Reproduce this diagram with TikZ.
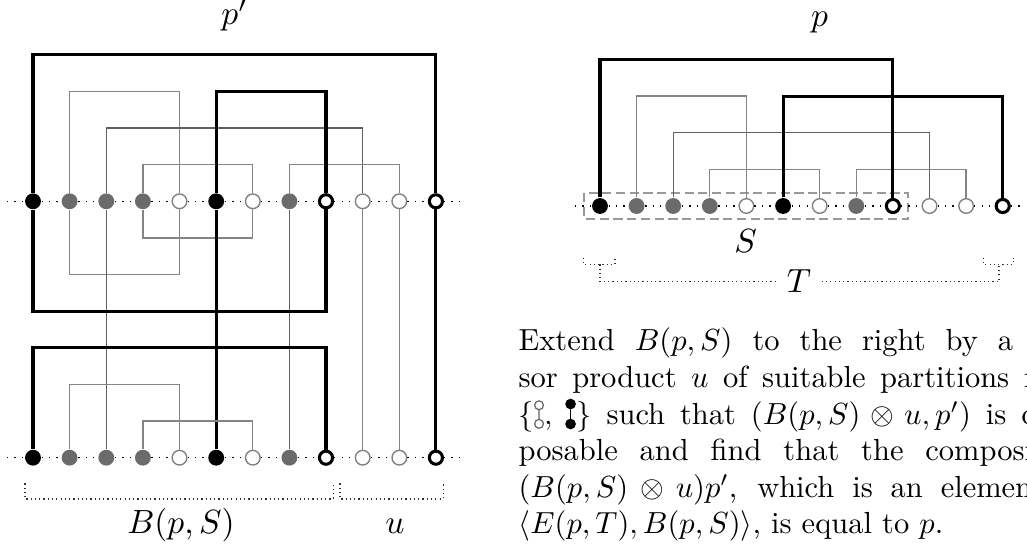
\RequirePackage{fix-cm}
\documentclass[tikz,border=0pt]{standalone}
\usepackage{amsmath}
\tikzset{
  bdot/.style={circle,fill=black,inner sep=0pt,minimum size=5.2pt},
  gdot/.style={circle,fill=black!58,inner sep=0pt,minimum size=5.2pt},
  wdot/.style={circle,draw=black!50,line width=0.45pt,fill=white,inner sep=0pt,minimum size=4.8pt},
  odot/.style={circle,draw=black,line width=1pt,fill=white,inner sep=0pt,minimum size=4.3pt},
  rowline/.style={dotted,line width=0.45pt},
  bline/.style={line width=1pt},
  gline/.style={line width=0.45pt,black!48},
  dline/.style={line width=0.45pt,black!62},
  brack/.style={densely dotted,line width=0.4pt,black!80},
  sframe/.style={dash pattern={on 3pt off 1.5pt},line width=0.6pt,black!40},
  lab/.style={anchor=base,font=\fontsize{11pt}{13pt}\selectfont},
}
\newcommand{\wpair}{\tikz[baseline=0pt]{\pgftransformreset
  \useasboundingbox (-1.7pt,0pt) rectangle (1.7pt,1pt);
  \draw[black!60,line width=0.4pt] (0pt,0.1pt) circle[radius=1.45pt] (0pt,6.2pt) circle[radius=1.45pt] (0pt,1.55pt) -- (0pt,4.75pt);}}
\newcommand{\bpair}{\tikz[baseline=0pt]{\pgftransformreset
  \useasboundingbox (-4.2pt,0pt) rectangle (1.9pt,1pt);
  \fill (0pt,0.05pt) circle[radius=1.75pt] (0pt,6.6pt) circle[radius=1.75pt];
  \draw[line width=0.6pt] (0pt,0.05pt) -- (0pt,6.6pt);}}
\begin{document}
\begin{tikzpicture}[x=0.328pt,y=0.328pt,yscale=-1,xscale=1]
	\useasboundingbox (0,0) rectangle (1027,548);
	
	%Shape: Dashed Rectangle
	\draw[sframe] (584.3,193.3) rectangle (908.3,219);
	
	%Shape: Circles (middle row of p')
	\path (33.0,201.3) node[bdot] (a1) {} (69.6,201.3) node[gdot] (a2) {} (106.3,201.3) node[gdot] (a3) {}
	      (142.9,201.3) node[gdot] (a4) {} (179.5,201.3) node[wdot] (a5) {} (216.2,201.3) node[bdot] (a6) {}
	      (252.8,201.3) node[wdot] (a7) {} (289.4,201.3) node[gdot] (a8) {} (326.0,201.3) node[odot] (a9) {}
	      (362.7,201.3) node[wdot] (a10) {} (399.3,201.3) node[wdot] (a11) {} (435.9,201.3) node[odot] (a12) {};
	%Shape: Circles (bottom row)
	\path (33.0,457.7) node[bdot] (b1) {} (69.6,457.7) node[gdot] (b2) {} (106.3,457.7) node[gdot] (b3) {}
	      (142.9,457.7) node[gdot] (b4) {} (179.5,457.7) node[wdot] (b5) {} (216.2,457.7) node[bdot] (b6) {}
	      (252.8,457.7) node[wdot] (b7) {} (289.4,457.7) node[gdot] (b8) {} (326.0,457.7) node[odot] (b9) {}
	      (362.7,457.7) node[wdot] (b10) {} (399.3,457.7) node[wdot] (b11) {} (435.9,457.7) node[odot] (b12) {};
	%Shape: Circles (row of p)
	\path (600.0,206) node[bdot] (c1) {} (636.6,206) node[gdot] (c2) {} (673.2,206) node[gdot] (c3) {}
	      (709.8,206) node[gdot] (c4) {} (746.4,206) node[wdot] (c5) {} (783.1,206) node[bdot] (c6) {}
	      (819.7,206) node[wdot] (c7) {} (856.3,206) node[gdot] (c8) {} (892.9,206) node[odot] (c9) {}
	      (929.5,206) node[wdot] (c10) {} (966.1,206) node[wdot] (c11) {} (1002.7,206) node[odot] (c12) {};
	
	%Straight Lines (dotted rows)
	\draw[rowline] ([xshift=-8.6pt]a1.center) -- (a1) -- (a2) -- (a3) -- (a4) -- (a5) -- (a6) -- (a7) -- (a8) -- (a9) -- (a10) -- (a11) -- (a12) -- ([xshift=8.6pt]a12.center);
	\draw[rowline] ([xshift=-8.6pt]b1.center) -- (b1) -- (b2) -- (b3) -- (b4) -- (b5) -- (b6) -- (b7) -- (b8) -- (b9) -- (b10) -- (b11) -- (b12) -- ([xshift=8.6pt]b12.center);
	\draw[rowline] ([xshift=-8.2pt]c1.center) -- (c1) -- (c2) -- (c3) -- (c4) -- (c5) -- (c6) -- (c7) -- (c8) -- (c9) -- (c10) -- (c11) -- (c12) -- ([xshift=6.4pt]c12.center);
	
	%Straight Lines (blocks of p')
	\draw[gline] (a2) -- ++(0,-109.9) -| (a5);
	\draw[gline] (a5) -- ++(0,73.3) -| (a2);
	\draw[dline] (a3) -- ++(0,-73.3) -| (a10);
	\draw[gline] (a4) -- ++(0,-36.6) -| (a7);
	\draw[gline] (a7) -- ++(0,36.6) -| (a4);
	\draw[gline] (a8) -- ++(0,-36.6) -| (a11);
	\draw[dline] (a3) -- (b3);
	\draw[dline] (a8) -- (b8);
	\draw[gline] (a10) -- (b10);
	\draw[gline] (a11) -- (b11);
	\draw[bline] (a1) -- ++(0,-146.5) -| (a12);
	\draw[bline] (a1) -- ++(0,109.9) -| (a9);
	\draw[bline] (a6) -- ++(0,-109.9) -| (a9);
	\draw[bline] (a6) -- (b6);
	\draw[bline] (a12) -- (b12);
	%Straight Lines (blocks of B(p,S) and u)
	\draw[gline] (b2) -- ++(0,-73.3) -| (b5);
	\draw[gline] (b4) -- ++(0,-36.6) -| (b7);
	\draw[bline] (b1) -- ++(0,-109.9) -| (b9);
	%Straight Lines (blocks of p)
	\draw[gline] (c2) -- ++(0,-109.9) -| (c5);
	\draw[dline] (c3) -- ++(0,-73.3) -| (c10);
	\draw[gline] (c4) -- ++(0,-36.6) -| (c7);
	\draw[gline] (c8) -- ++(0,-36.6) -| (c11);
	\draw[bline] (c1) -- ++(0,-146.5) -| (c9);
	\draw[bline] (c6) -- ++(0,-109.9) -| (c12);
	
	%Shape: Brackets
	\draw[brack] (25,483.3) -- (25,499) -- (333.3,499) -- (333.3,483.3);
	\draw[brack] (340,483.3) -- (340,499) -- (443.3,499) -- (443.3,483.3);
	\draw[brack] (583.3,257.7) -- (583.3,264.3) -- (615,264.3) -- (615,257.7);
	\draw[brack] (983.3,257.7) -- (983.3,264.3) -- (1013.3,264.3) -- (1013.3,257.7);
	\draw[brack] (600,264.3) -- (600,281.7) -- (776,281.7);
	\draw[brack] (821.7,281.7) -- (999,281.7) -- (999,264.3);
	
	% Text Node
	\node[lab] (pprime) at (234.5,25) {$p'$};
	% Text Node
	\node[lab] (plab) at (819.5,27) {$p$};
	% Text Node
	\node[lab] (slab) at (745.5,253) {$S$};
	% Text Node
	\node[lab] (tlab) at (799,293) {$T$};
	% Text Node
	\node[lab] (blab) at (181,534) {$B(p,S)$};
	% Text Node
	\node[lab] (ulab) at (395,534) {$u$};
	% Text Node
	\node[anchor=base west,inner sep=0pt] (txt) at (518,351) {\parbox[t]{186pt}{Extend $B(p,S)$ to the right by a ten-\linebreak sor product $u$ of suitable partitions from\linebreak $\{\wpair,\bpair\}$ such that $(B(p,S)\otimes u,p')$ is com-\linebreak posable and find that the composition\linebreak $(B(p,S)\otimes u)p'$, which is an element of\linebreak $\langle E(p,T),B(p,S)\rangle$, is equal to~$p$.}};
	
\end{tikzpicture}
\end{document}
